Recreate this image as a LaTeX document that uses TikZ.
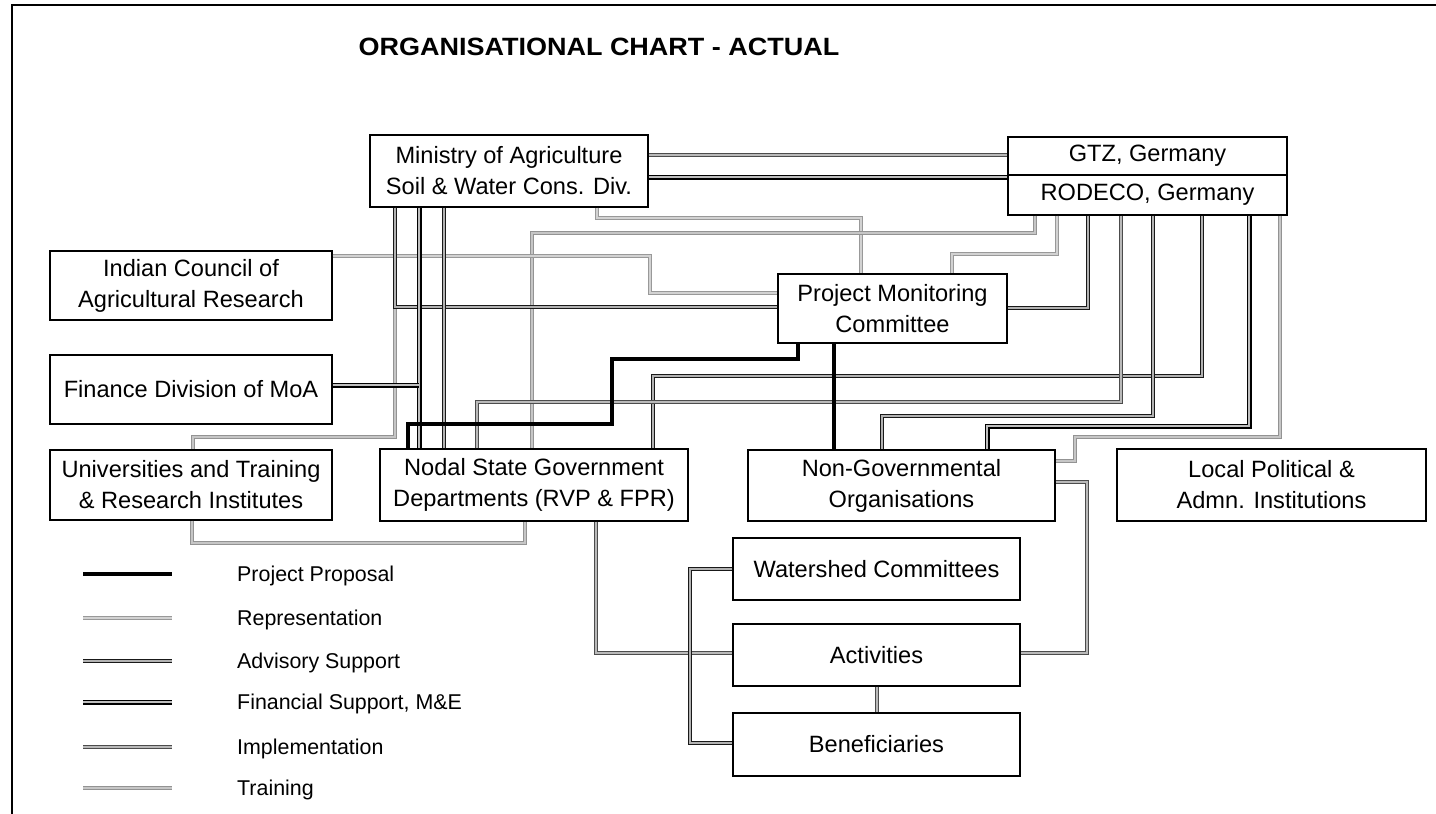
\documentclass[tikz,border=0pt]{standalone}
\usepackage{fontspec}
\setmainfont{Liberation Sans}
\newcommand{\bxf}{\fontsize{23.6pt}{31pt}\selectfont}
\newcommand{\lgf}{\fontsize{21.4pt}{26pt}\selectfont}
\newcommand{\ttf}{\fontsize{25pt}{28pt}\selectfont\bfseries}
\tikzset{
  box/.style={draw=black, line width=1.3pt, inner sep=0pt, align=center, font=\bxf},
  lgtext/.style={anchor=west, inner sep=0pt, font=\lgf},
  prop/.style={draw=black, line width=4pt},
  repr/.style={draw=gray!80, line width=0.8pt, double=gray!35, double distance=1.6pt},
  adv/.style={draw=black!90, line width=1.1pt, double=gray!60, double distance=2pt},
  finc/.style={draw=black, line width=1.5pt, double=gray!50, double distance=2pt},
  impl/.style={draw=black!70, line width=1pt, double=gray!55, double distance=2pt},
  trn/.style={draw=gray!85, line width=0.9pt, double=gray!45, double distance=2pt},
}
\begin{document}
\begin{tikzpicture}[x=1pt,y=-1pt]
\useasboundingbox (0,0) rectangle (1436,814);
\fill[white] (0,0) rectangle (1436,814);
% frame
\draw[line width=2.5pt] (12,814) -- (12,5) -- (1436,5);
% title
\node[font=\ttf, inner sep=0pt] (title) at (599,47) {\scalebox{1.08}[1]{ORGANISATIONAL CHART - ACTUAL}};

% boxes
\node[box, minimum width=278pt, minimum height=72pt] (moa) at (509,171) {Ministry of Agriculture\\Soil \& Water Cons. Div.};
\node[box, minimum width=279pt, minimum height=38pt] (gtz) at (1147.5,156) {GTZ, Germany};
\node[box, minimum width=279pt, minimum height=40pt] (rodeco) at (1147.5,195) {RODECO, Germany};
\node[box, minimum width=282pt, minimum height=69pt] (icar) at (191,285.5) {Indian Council of\\Agricultural Research};
\node[box, minimum width=282pt, minimum height=69pt] (finance) at (191,389.5) {Finance Division of MoA};
\node[box, minimum width=282pt, minimum height=70pt] (univ) at (191,485) {Universities and Training\\\& Research Institutes};
\node[box, minimum width=308pt, minimum height=72pt] (nodal) at (534,485) {Nodal State Government\\Departments (RVP \& FPR)};
\node[box, minimum width=229pt, minimum height=69pt] (pmc) at (892.5,308.5) {Project Monitoring\\Committee};
\node[box, minimum width=307pt, minimum height=71pt] (ngo) at (901.5,485.5) {Non-Governmental\\Organisations};
\node[box, minimum width=309pt, minimum height=72pt] (local) at (1271.5,485) {Local Political \&\\Admn. Institutions};
\node[box, minimum width=287pt, minimum height=62pt] (ws) at (876.5,569) {Watershed Committees};
\node[box, minimum width=287pt, minimum height=62pt] (act) at (876.5,655) {Activities};
\node[box, minimum width=287pt, minimum height=63pt] (ben) at (876.5,744.5) {Beneficiaries};

% connectors
\draw[impl] (moa.east |- 0,155) -- (gtz.west |- 0,155);
\draw[finc] (moa.east |- 0,177) -- (rodeco.west |- 0,177);
\draw[repr] (moa.south -| 597,0) |- (861,218) -- (pmc.north -| 861,0);
\draw[trn] (rodeco.south -| 1035,0) |- (532,233) -- (nodal.north -| 532,0);
\draw[repr] (icar.east |- 0,256) -| (650,293) -- (pmc.west |- 0,293);
\draw[trn] (moa.south -| 395,0) |- (193,437) -- (univ.north -| 193,0);
\draw[adv] (moa.south -| 395,0) |- (pmc.west |- 0,307);
\coordinate (fj) at (419,385);
\draw[finc] (moa.south -| 419,0) -- (nodal.north -| 419,0);
\draw[finc] (finance.east |- fj) -- (fj);
\draw[adv] (moa.south -| 444,0) -- (nodal.north -| 444,0);
\draw[repr] (rodeco.south -| 1057,0) |- (952,254) -- (pmc.north -| 952,0);
\draw[adv] (rodeco.south -| 1088,0) |- (pmc.east |- 0,308);
\draw[adv] (rodeco.south -| 1202,0) |- (653,376) -- (nodal.north -| 653,0);
\draw[impl] (rodeco.south -| 1121,0) |- (477,402) -- (nodal.north -| 477,0);
\draw[adv] (rodeco.south -| 1153,0) |- (882,416) -- (ngo.north -| 882,0);
\draw[finc] (rodeco.south -| 1249,0) |- (987,426) -- (ngo.north -| 987,0);
\draw[trn] (rodeco.south -| 1280,0) |- (1075,437) |- (ngo.east |- 0,461);
\draw[prop] (pmc.south -| 798,0) |- (612,359) |- (408,424) -- (nodal.north -| 408,0);
\draw[prop] (pmc.south -| 834,0) -- (ngo.north -| 834,0);
\draw[impl] (ngo.east |- 0,482) -| (1087,653) -- (act.east |- 0,653);
\draw[trn] (univ.south -| 192,0) |- (525,543) -- (nodal.south -| 525,0);
\draw[impl] (nodal.south -| 596,0) |- (act.west |- 0,653);
\draw[adv] (ws.west) -| (690,743) -- (ben.west |- 0,743);
\draw[impl] (act.south) -- (ben.north);

% legend
\foreach \s/\y/\n/\t in {prop/574/a/Project Proposal, repr/618/b/Representation, adv/661/c/Advisory Support, finc/702/d/{Financial Support, M\&E}, impl/747/e/Implementation, trn/788/f/Training}{
  \coordinate (l\n a) at (83,\y);
  \coordinate (l\n b) at (172,\y);
  \draw[\s] (l\n a) -- (l\n b);
  \node[lgtext] (lt\n) at (237,\y+2) {\t};
}
\end{tikzpicture}
\end{document}
